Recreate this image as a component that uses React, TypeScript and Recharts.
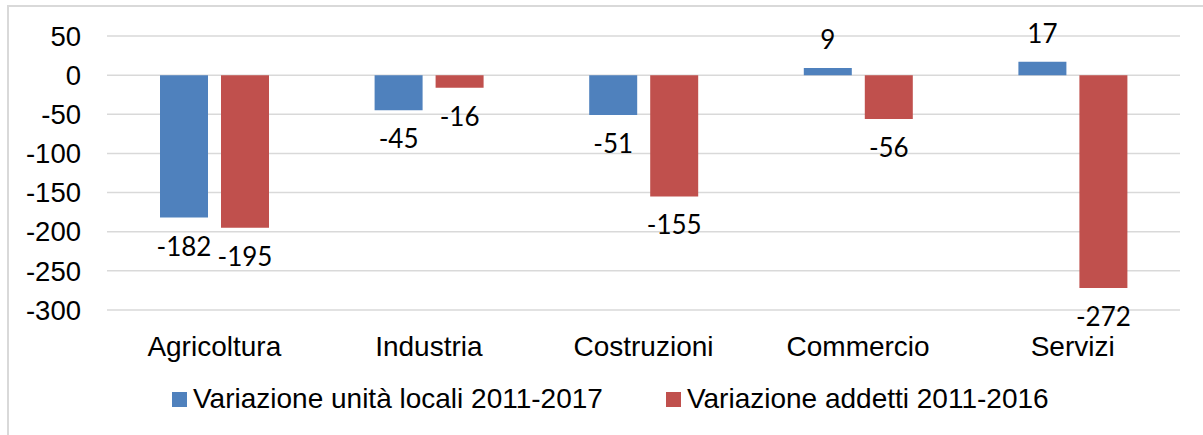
import { BarChart, Bar, XAxis, YAxis, CartesianGrid, LabelList } from "recharts";

const categories = ["Agricoltura", "Industria", "Costruzioni", "Commercio", "Servizi"];
const unitaLocali = [-182, -45, -51, 9, 17];
const addetti = [-195, -16, -155, -56, -272];
const yTicks = [50, 0, -50, -100, -150, -200, -250, -300];

const seriesNames = ["Variazione unità locali 2011-2017", "Variazione addetti 2011-2016"];
const BLUE = "#4F81BD";
const RED = "#C0504D";
const AXIS_FONT = "'Liberation Sans', Arial, sans-serif";
const LABEL_FONT = "Lato, 'Noto Sans', sans-serif";

const data = categories.map((name, i) => ({
  name,
  unita: unitaLocali[i],
  addetti: addetti[i],
}));

function ValueLabel(props: any) {
  const { x, y, width, height, value } = props;
  const top = Math.min(y, y + height);
  const bottom = Math.max(y, y + height);
  const cx = x + width / 2;
  const center = value < 0 ? bottom + 28.5 : top - 28.5;
  return (
    <text
      x={cx}
      y={center + 9.5}
      textAnchor="middle"
      fontFamily={LABEL_FONT}
      fontSize={26}
      fill="#000"
    >
      {value}
    </text>
  );
}

export default function App() {
  return (
    <div
      style={{
        position: "fixed",
        left: 0,
        top: 0,
        width: 1203,
        height: 435,
        overflow: "hidden",
        background: "#fff",
      }}
    >
      <div
        style={{
          position: "absolute",
          left: 7,
          top: 5,
          width: 1300,
          height: 500,
          border: "2px solid #d9d9d9",
        }}
      />
      <div style={{ position: "absolute", left: 0, top: 0 }}>
        <BarChart
          width={1203}
          height={435}
          data={data}
          margin={{ top: 36, right: 23, bottom: 65, left: 0 }}
          barSize={48}
          barGap={13}
        >
          <CartesianGrid vertical={false} stroke="#d9d9d9" strokeWidth={1.5} />
          <XAxis
            dataKey="name"
            height={60}
            axisLine={false}
            tickLine={false}
            tickSize={0}
            tickMargin={26}
            tick={{ fontFamily: AXIS_FONT, fontSize: 28, fill: "#000" }}
          />
          <YAxis
            width={107}
            domain={[-300, 50]}
            ticks={yTicks}
            interval={0}
            axisLine={false}
            tickLine={false}
            tickSize={0}
            tickMargin={26}
            tick={{ fontFamily: AXIS_FONT, fontSize: 27.5, fill: "#000" }}
          />
          <Bar dataKey="unita" name={seriesNames[0]} fill={BLUE} isAnimationActive={false}>
            <LabelList dataKey="unita" content={ValueLabel} />
          </Bar>
          <Bar dataKey="addetti" name={seriesNames[1]} fill={RED} isAnimationActive={false}>
            <LabelList dataKey="addetti" content={ValueLabel} />
          </Bar>
        </BarChart>
      </div>
      <div
        style={{
          position: "absolute",
          left: 172,
          top: 385,
          display: "flex",
          alignItems: "center",
          fontFamily: AXIS_FONT,
          fontSize: 28,
          lineHeight: "28px",
          color: "#000",
          whiteSpace: "nowrap",
        }}
      >
        <span style={{ width: 15, height: 15, background: BLUE, display: "inline-block", marginRight: 6 }} />
        <span>{seriesNames[0]}</span>
        <span
          style={{
            width: 15,
            height: 15,
            background: RED,
            display: "inline-block",
            marginLeft: 63,
            marginRight: 6,
          }}
        />
        <span>{seriesNames[1]}</span>
      </div>
    </div>
  );
}
